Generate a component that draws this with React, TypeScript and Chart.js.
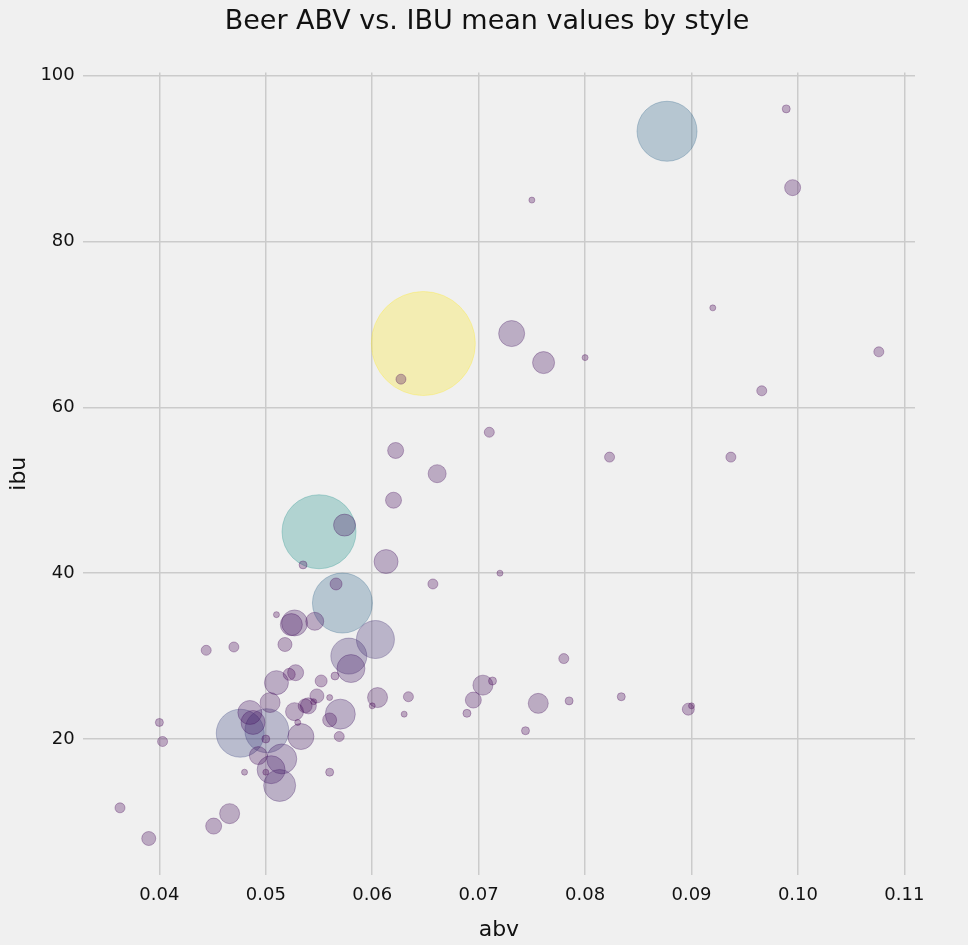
import React, { useEffect, useRef } from "react";
import { Chart, registerables } from "chart.js";
Chart.register(...registerables);

const abv = [0.0648,0.055,0.0877,0.0572,0.0476,0.0501,0.0603,0.0578,0.058,0.0513,0.0515,0.0505,0.057,0.0533,0.0485,0.0488,0.051,0.0527,0.0524,0.0613,0.0731,0.0761,0.0574,0.0605,0.0704,0.0756,0.0661,0.0504,0.0493,0.0527,0.0466,0.0546,0.0695,0.0995,0.0622,0.062,0.0528,0.054,0.0451,0.039,0.0548,0.0518,0.056,0.0537,0.0897,0.0552,0.0522,0.0566,
0.0363,0.0403,0.0444,0.047,0.0627,0.071,0.0657,0.0634,0.078,0.0823,0.0937,0.0966,0.1076,0.0569,
0.04,0.0989,0.0713,0.0689,0.0744,0.0785,0.0834,0.056,0.0535,0.0565,0.05,
0.075,0.092,0.08,0.072,0.051,0.048,0.05,0.063,0.06,0.09,0.053,0.056,0.0545];
const ibu = [67.7,45.0,93.3,36.4,20.7,21.0,32.0,30.0,28.5,14.4,17.6,16.3,23.0,20.3,23.2,22.0,26.8,34.0,33.8,41.4,68.9,65.4,45.8,25.0,26.5,24.3,52.0,24.4,18.0,23.3,11.0,34.2,24.7,86.5,54.8,48.8,28.0,24.0,9.5,8.0,25.2,31.4,22.3,24.0,23.6,27.0,27.8,38.7,
11.7,19.7,30.7,31.1,63.4,57.0,38.7,25.1,29.7,54.0,54.0,62.0,66.7,20.3,
22.0,96.0,27.0,23.1,21.0,24.6,25.1,16.0,41.0,27.6,20.0,
85.0,72.0,66.0,40.0,35.0,16.0,16.0,23.0,24.0,24.0,22.0,25.0,24.5];
const counts = [2704,1369,900,900,576,484,361,324,196,256,225,196,225,169,144,144,144,169,121,144,169,121,121,100,100,100,81,100,81,81,100,81,64,64,64,64,64,64,64,49,49,49,49,49,36,36,36,36,
25,25,25,25,25,25,25,25,25,25,25,25,25,25,
16,16,16,16,16,16,16,16,16,16,16,
9,9,9,9,9,9,9,9,9,9,9,9,9];
const xTicks = [0.04,0.05,0.06,0.07,0.08,0.09,0.10,0.11];
const yTicks = [20,40,60,80,100];

const stops: [number, number[]][] = [[0,[68,1,84]],[0.25,[59,82,139]],[0.5,[33,145,140]],[0.75,[94,201,98]],[1,[253,231,37]]];
function viridis(t: number) {
  for (let i = 1; i < stops.length; i++) {
    if (t <= stops[i][0]) {
      const [t0, c0] = stops[i-1], [t1, c1] = stops[i];
      const f = (t - t0) / (t1 - t0);
      const c = c0.map((v, k) => Math.round(v + (c1[k] - v) * f));
      return `rgba(${c[0]},${c[1]},${c[2]},0.3)`;
    }
  }
  return "rgba(253,231,37,0.3)";
}

export default function App() {
  const ref = useRef<HTMLCanvasElement>(null);
  useEffect(() => {
    document.body.style.margin = "0";
    document.body.style.background = "#f0f0f0";
    const maxC = Math.max(...counts), minC = Math.min(...counts);
    const data = abv.map((x, i) => ({ x, y: ibu[i] }));
    const chart = new Chart(ref.current!, {
      type: "scatter",
      data: { datasets: [{ data,
        pointRadius: counts.map(c => Math.sqrt(c)),
        pointBackgroundColor: counts.map(c => viridis((c - minC) / (maxC - minC))),
        pointBorderColor: counts.map(c => viridis((c - minC) / (maxC - minC))),
        pointBorderWidth: 1 }] },
      options: {
        animation: false, responsive: false,
        layout: { padding: { left: 6, right: 0, top: 0, bottom: 2 } },
        plugins: {
          legend: { display: false }, tooltip: { enabled: false },
          title: { display: true, text: "Beer ABV vs. IBU mean values by style", color: "#111", font: { family: "DejaVu Sans", size: 27, weight: "normal" }, padding: { top: 6, bottom: 34 } },
        },
        scales: {
          x: { type: "linear", min: 0.0328, max: 0.111,
            afterBuildTicks: (s: any) => { s.ticks = xTicks.map(v => ({ value: v })); },
            grid: { color: "#cbcbcb", lineWidth: 1.5, drawTicks: false }, border: { display: false },
            ticks: { color: "#111", font: { family: "DejaVu Sans", size: 18 }, padding: 10, callback: (v: any) => Number(v).toFixed(2) },
            title: { display: true, text: "abv", color: "#111", font: { family: "DejaVu Sans", size: 22 }, padding: 0 } },
          y: { type: "linear", min: 3.6, max: 100.4,
            afterBuildTicks: (s: any) => { s.ticks = yTicks.map(v => ({ value: v })); },
            grid: { color: "#cbcbcb", lineWidth: 1.5, drawTicks: false }, border: { display: false },
            ticks: { color: "#111", font: { family: "DejaVu Sans", size: 18 }, padding: 8 },
            title: { display: true, text: "ibu", color: "#111", font: { family: "DejaVu Sans", size: 22 }, padding: 0 } },
        },
      },
    });
    return () => chart.destroy();
  }, []);
  return <canvas ref={ref} width={968} height={945} style={{ display: "block" }} />;
}
